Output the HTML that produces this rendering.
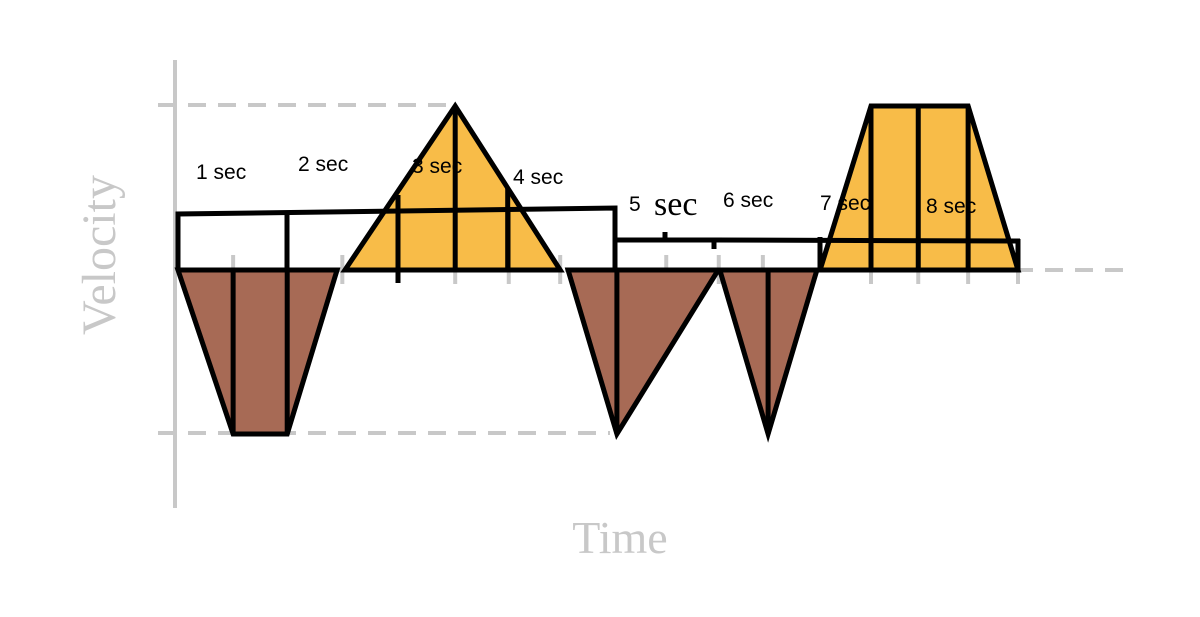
<!DOCTYPE html>
<html><head><meta charset="utf-8"><style>
html,body{margin:0;padding:0;background:#fff;width:1200px;height:617px;overflow:hidden}
svg{display:block}
.lbl{font-family:"Liberation Sans","DejaVu Sans",sans-serif;font-size:21px;fill:#000}
</style></head><body>
<svg id="chart" width="1200" height="617" viewBox="0 0 1200 617">
<g id="axes">
<line x1="175" y1="60" x2="175" y2="508" stroke="#c8c8c8" stroke-width="4"/>
<line x1="175" y1="270" x2="1130" y2="270" stroke="#c8c8c8" stroke-width="4" stroke-dasharray="18,12"/>
<line x1="158" y1="105" x2="450" y2="105" stroke="#c8c8c8" stroke-width="4" stroke-dasharray="18,12"/>
<line x1="158" y1="433" x2="610" y2="433" stroke="#c8c8c8" stroke-width="4" stroke-dasharray="18,12"/>
<text transform="translate(115,255) rotate(-90)" text-anchor="middle" font-family="Liberation Serif,serif" font-size="48" fill="#c8c8c8">Velocity</text>
<text x="620" y="553" text-anchor="middle" font-family="Liberation Serif,serif" font-size="46" fill="#c8c8c8">Time</text>
</g>
<g id="ticks"></g>
<g id="marks"></g>
<g id="boxes" fill="none" stroke="#000" stroke-width="5">
<polyline points="178,270 178,214 400,211 615,208 615,270"/>
<line x1="287" y1="212" x2="287" y2="270"/>
<line x1="398" y1="195" x2="398" y2="283"/>
<line x1="508" y1="207" x2="508" y2="270"/>
<polyline points="615,240 715,240 1020,241"/>
<line x1="665" y1="232" x2="665" y2="240"/>
<line x1="714" y1="240" x2="714" y2="249"/>
<line x1="820" y1="237" x2="820" y2="270"/>
<line x1="1018" y1="239" x2="1018" y2="270"/>
</g>
<g id="labels">
<text class="lbl" x="196" y="179">1 sec</text>
<text class="lbl" x="298" y="171">2 sec</text>
<text class="lbl" x="412" y="173">3 sec</text>
<text class="lbl" x="513" y="184">4 sec</text>
<text class="lbl" x="629" y="211">5</text>
<text x="654" y="215" font-family="Liberation Serif,serif" font-size="34" fill="#000">sec</text>
<text class="lbl" x="723" y="207">6 sec</text>
<text class="lbl" x="820" y="210">7 sec</text>
<text class="lbl" x="926" y="213">8 sec</text>
</g>
</svg>
<script>
// time units (x) and velocity units (y)
const tickTimes = [1.05, 2.08, 3.13, 5.28, 6.3, 7.28, 9.3, 10.3, 11.14, 13.2, 14.1, 15.05, 16];
const shapeTimes = [
  [0, 1.05, 2.08, 3.03],
  [3.18, 5.28, 7.28],
  [7.43, 8.36, 10.29],
  [10.32, 11.24, 12.17],
  [12.23, 13.2, 15.05, 16]
];
const shapeVelocities = [
  [0, -1, -1, 0],
  [0, 1, 0],
  [0, -1, 0],
  [0, -1, 0],
  [0, 1, 1, 0]
];
const shapeDividers = [
  [1.05, 2.08],
  [5.28, 6.28],
  [8.36],
  [11.24],
  [13.2, 14.1, 15.05]
];
const x = t => 178 + t * 52.5;
const y = v => 270 - v * 164;
const NS = 'http://www.w3.org/2000/svg';
const tg = document.getElementById('ticks');
tickTimes.forEach((t, i) => {
  const l = document.createElementNS(NS, 'line');
  l.setAttribute('x1', x(t)); l.setAttribute('x2', x(t));
  l.setAttribute('y1', 255); l.setAttribute('y2', 284);
  l.setAttribute('stroke', '#c8c8c8'); l.setAttribute('stroke-width', 4);
  
  
  tg.appendChild(l);
});
const mg = document.getElementById('marks');
shapeTimes.forEach((ts, i) => {
  const vs = shapeVelocities[i];
  const pts = ts.map((t, j) => x(t) + ',' + y(vs[j])).join(' ');
  const pos = vs.some(v => v > 0);
  const p = document.createElementNS(NS, 'polygon');
  p.setAttribute('points', pts);
  p.setAttribute('fill', pos ? '#f8bc48' : '#a76a55');
  p.setAttribute('stroke', '#000'); p.setAttribute('stroke-width', 5);
  p.setAttribute('stroke-linejoin', 'miter');
  
  
  mg.appendChild(p);
  shapeDividers[i].forEach(t => {
    let v = 0;
    for (let k = 0; k < ts.length - 1; k++) {
      if (t >= ts[k] && t <= ts[k + 1]) {
        const f = (t - ts[k]) / (ts[k + 1] - ts[k] || 1);
        v = vs[k] + f * (vs[k + 1] - vs[k]);
      }
    }
    const l = document.createElementNS(NS, 'line');
    l.setAttribute('x1', x(t)); l.setAttribute('x2', x(t));
    l.setAttribute('y1', y(0)); l.setAttribute('y2', y(v));
    l.setAttribute('stroke', '#000'); l.setAttribute('stroke-width', 5);
    
    
    mg.appendChild(l);
  });
});
</script>
</body></html>
